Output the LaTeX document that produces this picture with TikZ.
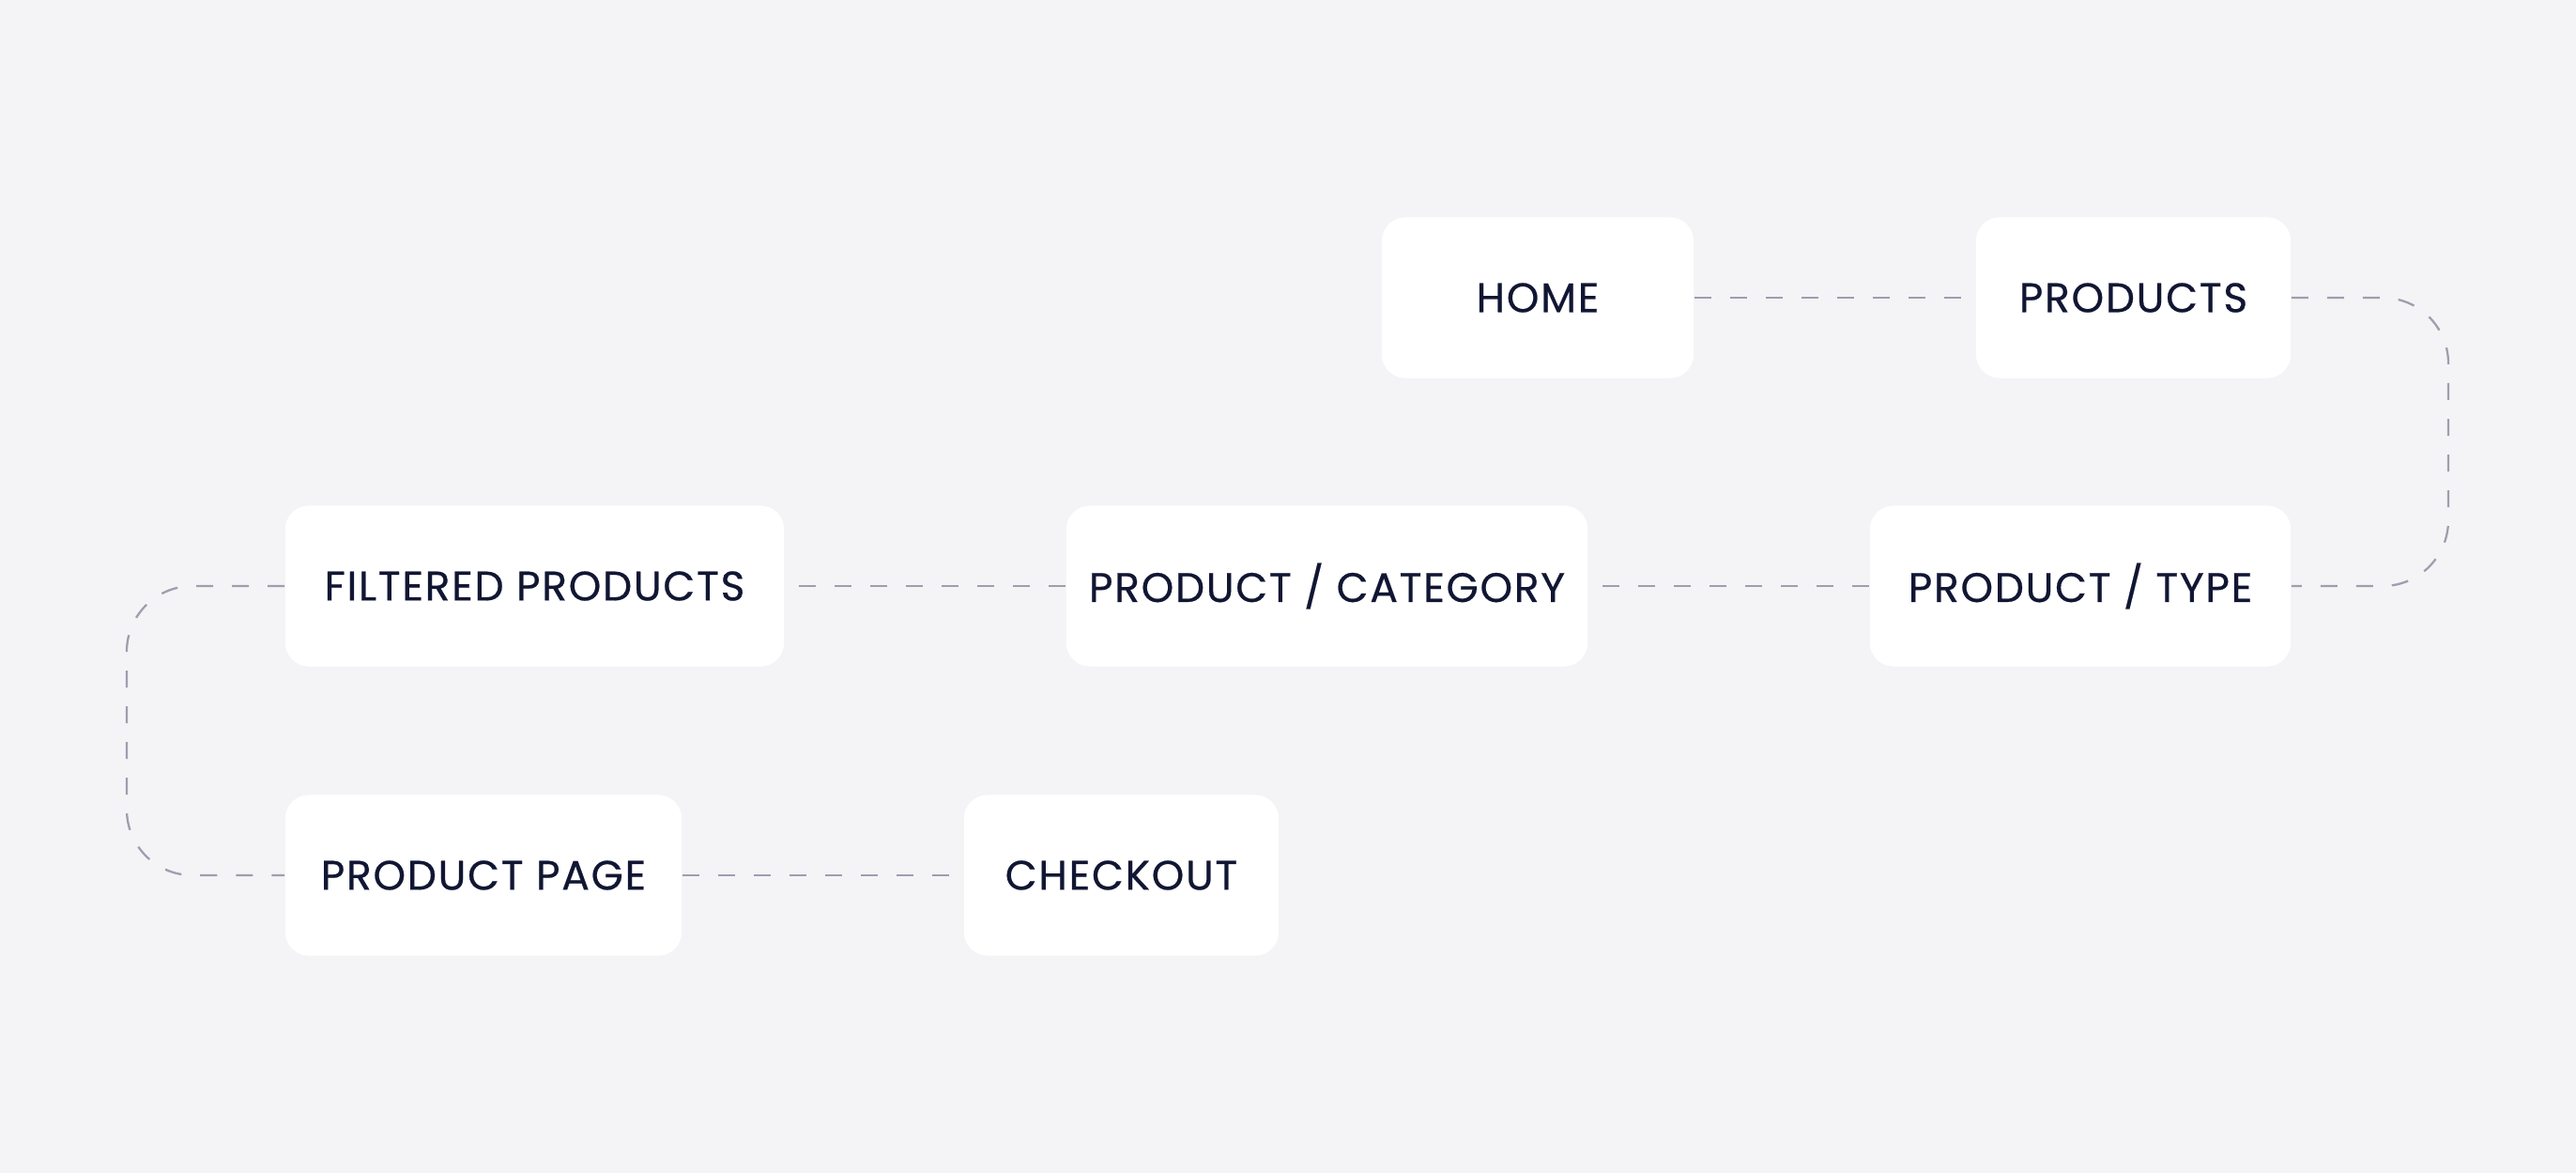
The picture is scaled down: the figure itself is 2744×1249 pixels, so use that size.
\documentclass[tikz,border=0pt]{standalone}
\usepackage{fontspec}
\setmainfont{Poppins}[LetterSpace=4,FakeBold=0.5]
\definecolor{pagebg}{HTML}{F4F4F7}
\definecolor{inkblue}{HTML}{111633}
\definecolor{dashgray}{HTML}{9E9EAE}
\tikzset{
	page/.style={rectangle,rounded corners=0.25cm,fill=white,draw=none,text=inkblue,minimum height=1.71cm,inner sep=0pt,font=\fontsize{12.5}{15}\selectfont},
	link/.style={dashgray,line width=0.65pt,dash pattern=on 0.18cm off 0.2cm}
}
\begin{document}
\begin{tikzpicture}[x=0.01cm,y=-0.01cm]
	\fill[pagebg] (0,0) rectangle (2744,1249);
	\useasboundingbox (0,0) rectangle (2744,1249);
	% first row
	\node[page,minimum width=3.32cm] (home) at (1638,317) {HOME};
	\node[page,minimum width=3.35cm] (products) at (2272.5,317) {PRODUCTS};
	% second row
	\node[page,minimum width=5.31cm] (filtered) at (569.5,624) {FILTERED PRODUCTS};
	\node[page,minimum width=5.55cm] (category) at (1413.5,624) {PRODUCT / CATEGORY};
	\node[page,minimum width=4.48cm] (type) at (2216,624) {PRODUCT / TYPE};
	% third row
	\node[page,minimum width=4.22cm] (productpage) at (515,932) {PRODUCT PAGE};
	\node[page,minimum width=3.35cm] (checkout) at (1194.5,932) {CHECKOUT};
	\coordinate (rloop) at (2608,470);
	\coordinate (lloop) at (135,778);
	\draw[link] (home.east)--(products.west);
	\draw[link,rounded corners=0.7cm] (products.east) -| (rloop) |- (type.east);
	\draw[link] (type.west)--(category.east);
	\draw[link] (category.west)--(filtered.east);
	\draw[link,rounded corners=0.7cm] (filtered.west) -| (lloop) |- (productpage.west);
	\draw[link] (productpage.east)--(checkout.west);
\end{tikzpicture}
\end{document}
